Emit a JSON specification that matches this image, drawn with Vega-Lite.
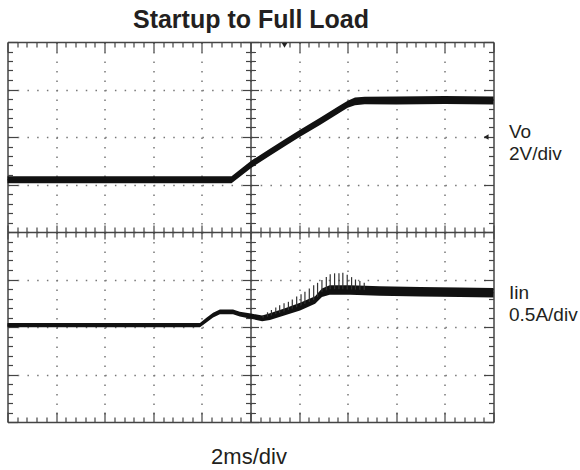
{
  "$schema": "https://vega.github.io/schema/vega-lite/v6.json",
  "width": 486,
  "height": 380,
  "autosize": {"type": "none"},
  "padding": {"left": 7.5, "top": 42, "right": 86.5, "bottom": 48},
  "background": "white",
  "config": {
    "view": {"stroke": null},
    "axis": {"labels": false, "grid": false, "domainColor": "#444", "domainWidth": 1.5, "tickColor": "#444", "tickWidth": 1.2}
  },
  "datasets": {
    "vo": [
      {"t": 0, "c": 5.10, "lo": 5.025, "hi": 5.175},
      {"t": 4.61, "c": 5.10, "lo": 5.025, "hi": 5.175},
      {"t": 5.02, "c": 5.43, "lo": 5.355, "hi": 5.505},
      {"t": 5.40, "c": 5.68, "lo": 5.605, "hi": 5.755},
      {"t": 5.74, "c": 5.90, "lo": 5.825, "hi": 5.975},
      {"t": 6.02, "c": 6.08, "lo": 6.005, "hi": 6.155},
      {"t": 6.43, "c": 6.33, "lo": 6.255, "hi": 6.405},
      {"t": 6.81, "c": 6.57, "lo": 6.495, "hi": 6.645},
      {"t": 7.00, "c": 6.69, "lo": 6.615, "hi": 6.765},
      {"t": 7.15, "c": 6.75, "lo": 6.67, "hi": 6.83},
      {"t": 7.35, "c": 6.77, "lo": 6.69, "hi": 6.85},
      {"t": 8, "c": 6.77, "lo": 6.685, "hi": 6.855},
      {"t": 9, "c": 6.78, "lo": 6.695, "hi": 6.865},
      {"t": 10, "c": 6.77, "lo": 6.685, "hi": 6.855}
    ],
    "iin": [
      {"t": 0, "c": 2.04, "lo": 1.995, "hi": 2.085},
      {"t": 3.96, "c": 2.04, "lo": 1.995, "hi": 2.085},
      {"t": 4.10, "c": 2.15, "lo": 2.10, "hi": 2.20},
      {"t": 4.23, "c": 2.25, "lo": 2.20, "hi": 2.30},
      {"t": 4.37, "c": 2.32, "lo": 2.27, "hi": 2.37},
      {"t": 4.64, "c": 2.32, "lo": 2.27, "hi": 2.37},
      {"t": 4.78, "c": 2.27, "lo": 2.22, "hi": 2.32},
      {"t": 5.01, "c": 2.23, "lo": 2.175, "hi": 2.285},
      {"t": 5.24, "c": 2.18, "lo": 2.12, "hi": 2.24},
      {"t": 5.40, "c": 2.22, "lo": 2.15, "hi": 2.29},
      {"t": 5.71, "c": 2.32, "lo": 2.245, "hi": 2.395},
      {"t": 6.02, "c": 2.43, "lo": 2.35, "hi": 2.51},
      {"t": 6.33, "c": 2.57, "lo": 2.49, "hi": 2.65},
      {"t": 6.47, "c": 2.72, "lo": 2.63, "hi": 2.81},
      {"t": 6.63, "c": 2.78, "lo": 2.68, "hi": 2.88},
      {"t": 7.05, "c": 2.78, "lo": 2.68, "hi": 2.88},
      {"t": 7.66, "c": 2.76, "lo": 2.66, "hi": 2.86},
      {"t": 8.49, "c": 2.74, "lo": 2.64, "hi": 2.84},
      {"t": 9.31, "c": 2.73, "lo": 2.63, "hi": 2.83},
      {"t": 10, "c": 2.72, "lo": 2.62, "hi": 2.82}
    ],
    "spikes": [
      {"t": 5.26, "base": 2.18, "top": 2.25},
      {"t": 5.35, "base": 2.21, "top": 2.31},
      {"t": 5.43, "base": 2.23, "top": 2.36},
      {"t": 5.52, "base": 2.26, "top": 2.41},
      {"t": 5.60, "base": 2.28, "top": 2.46},
      {"t": 5.69, "base": 2.31, "top": 2.50},
      {"t": 5.78, "base": 2.34, "top": 2.53},
      {"t": 5.86, "base": 2.37, "top": 2.58},
      {"t": 5.95, "base": 2.40, "top": 2.64},
      {"t": 6.04, "base": 2.44, "top": 2.69},
      {"t": 6.12, "base": 2.48, "top": 2.74},
      {"t": 6.21, "base": 2.52, "top": 2.81},
      {"t": 6.30, "base": 2.56, "top": 2.88},
      {"t": 6.38, "base": 2.62, "top": 2.93},
      {"t": 6.47, "base": 2.74, "top": 2.99},
      {"t": 6.56, "base": 2.77, "top": 3.05},
      {"t": 6.64, "base": 2.79, "top": 3.11},
      {"t": 6.73, "base": 2.79, "top": 3.13},
      {"t": 6.82, "base": 2.79, "top": 3.13},
      {"t": 6.90, "base": 2.79, "top": 3.14},
      {"t": 6.99, "base": 2.78, "top": 3.10},
      {"t": 7.08, "base": 2.78, "top": 3.05},
      {"t": 7.16, "base": 2.78, "top": 3.00},
      {"t": 7.25, "base": 2.78, "top": 2.97},
      {"t": 7.34, "base": 2.77, "top": 2.93}
    ],
    "markers": [
      {"t": 5.70, "v": 7.93, "kind": "trigger"},
      {"t": 9.85, "v": 6.0, "kind": "reference"}
    ]
  },
  "layer": [
    {
      "data": {"name": "vo"},
      "mark": {"type": "area", "color": "#111"},
      "encoding": {
        "x": {"field": "t", "type": "quantitative", "scale": {"domain": [0, 10], "nice": false, "zero": false},
          "axis": {"orient": "bottom", "title": null, "values": [0,0.2,0.4,0.6,0.8,1,1.2,1.4,1.6,1.8,2,2.2,2.4,2.6,2.8,3,3.2,3.4,3.6,3.8,4,4.2,4.4,4.6,4.8,5,5.2,5.4,5.6,5.8,6,6.2,6.4,6.6,6.8,7,7.2,7.4,7.6,7.8,8,8.2,8.4,8.6,8.8,9,9.2,9.4,9.6,9.8,10],
            "tickSize": {"condition": {"test": "abs(datum.value - round(datum.value)) < 0.01", "value": -10}, "value": -5},
            "grid": true, "gridColor": "#777", "gridWidth": 1.5, "gridDash": [1.5, 8],
            "gridOpacity": {"condition": {"test": "abs(datum.value - round(datum.value)) < 0.01 && datum.value > 0.01 && datum.value < 9.99", "value": 1}, "value": 0}}},
        "y": {"field": "lo", "type": "quantitative", "scale": {"domain": [0, 8], "nice": false, "zero": false},
          "axis": {"orient": "left", "title": null, "values": [0,0.2,0.4,0.6,0.8,1,1.2,1.4,1.6,1.8,2,2.2,2.4,2.6,2.8,3,3.2,3.4,3.6,3.8,4,4.2,4.4,4.6,4.8,5,5.2,5.4,5.6,5.8,6,6.2,6.4,6.6,6.8,7,7.2,7.4,7.6,7.8,8],
            "tickSize": {"condition": {"test": "abs(datum.value - round(datum.value)) < 0.01", "value": -10}, "value": -5},
            "grid": true, "gridColor": "#777", "gridWidth": 1.5, "gridDash": [1.5, 8.22],
            "gridOpacity": {"condition": {"test": "abs(datum.value - round(datum.value)) < 0.01 && datum.value > 0.01 && datum.value < 7.99", "value": 1}, "value": 0}}},
        "y2": {"field": "hi"}
      }
    },
    {
      "data": {"name": "iin"},
      "mark": {"type": "area", "color": "#111"},
      "encoding": {
        "x": {"field": "t", "type": "quantitative", "scale": {"domain": [0, 10], "nice": false, "zero": false},
          "axis": {"orient": "top", "values": [0,0.2,0.4,0.6,0.8,1,1.2,1.4,1.6,1.8,2,2.2,2.4,2.6,2.8,3,3.2,3.4,3.6,3.8,4,4.2,4.4,4.6,4.8,5,5.2,5.4,5.6,5.8,6,6.2,6.4,6.6,6.8,7,7.2,7.4,7.6,7.8,8,8.2,8.4,8.6,8.8,9,9.2,9.4,9.6,9.8,10],
            "tickSize": {"condition": {"test": "abs(datum.value - round(datum.value)) < 0.01", "value": -10}, "value": -5},
            "title": "Startup to Full Load", "titleFont": "Liberation Sans", "titleFontSize": 25, "titleFontWeight": "bold", "titleColor": "#231f20",
            "titleX": 243, "titleY": -15, "titleAlign": "center", "titleBaseline": "alphabetic"}},
        "y": {"field": "lo", "type": "quantitative", "scale": {"domain": [0, 8], "nice": false, "zero": false},
          "axis": {"orient": "right", "title": null, "values": [0,0.2,0.4,0.6,0.8,1,1.2,1.4,1.6,1.8,2,2.2,2.4,2.6,2.8,3,3.2,3.4,3.6,3.8,4,4.2,4.4,4.6,4.8,5,5.2,5.4,5.6,5.8,6,6.2,6.4,6.6,6.8,7,7.2,7.4,7.6,7.8,8],
            "tickSize": {"condition": {"test": "abs(datum.value - round(datum.value)) < 0.01", "value": -10}, "value": -5}}},
        "y2": {"field": "hi"}
      }
    },
    {
      "data": {"name": "spikes"},
      "mark": {"type": "rule", "color": "#333", "strokeWidth": 1.2},
      "encoding": {
        "x": {"field": "t", "type": "quantitative", "scale": {"domain": [0, 10], "nice": false, "zero": false},
          "axis": {"orient": "bottom", "title": null, "offset": -190, "values": [0,0.2,0.4,0.6,0.8,1,1.2,1.4,1.6,1.8,2,2.2,2.4,2.6,2.8,3,3.2,3.4,3.6,3.8,4,4.2,4.4,4.6,4.8,5,5.2,5.4,5.6,5.8,6,6.2,6.4,6.6,6.8,7,7.2,7.4,7.6,7.8,8,8.2,8.4,8.6,8.8,9,9.2,9.4,9.6,9.8,10],
            "tickSize": {"condition": {"test": "abs(datum.value - round(datum.value)) < 0.01", "value": 7}, "value": 5}}},
        "y": {"field": "base", "type": "quantitative", "scale": {"domain": [0, 8], "nice": false, "zero": false},
          "axis": {"orient": "left", "title": null, "offset": -243, "values": [0,0.2,0.4,0.6,0.8,1,1.2,1.4,1.6,1.8,2,2.2,2.4,2.6,2.8,3,3.2,3.4,3.6,3.8,4,4.2,4.4,4.6,4.8,5,5.2,5.4,5.6,5.8,6,6.2,6.4,6.6,6.8,7,7.2,7.4,7.6,7.8,8],
            "tickSize": {"condition": {"test": "abs(datum.value - round(datum.value)) < 0.01", "value": 8}, "value": 5}}},
        "y2": {"field": "top"}
      }
    },
    {
      "data": {"name": "vo"},
      "mark": {"type": "line", "color": "#111", "strokeWidth": 1},
      "encoding": {
        "x": {"field": "t", "type": "quantitative", "scale": {"domain": [0, 10], "nice": false, "zero": false},
          "axis": {"orient": "bottom", "title": null, "offset": -190, "domain": false, "values": [0,0.2,0.4,0.6,0.8,1,1.2,1.4,1.6,1.8,2,2.2,2.4,2.6,2.8,3,3.2,3.4,3.6,3.8,4,4.2,4.4,4.6,4.8,5,5.2,5.4,5.6,5.8,6,6.2,6.4,6.6,6.8,7,7.2,7.4,7.6,7.8,8,8.2,8.4,8.6,8.8,9,9.2,9.4,9.6,9.8,10],
            "tickSize": {"condition": {"test": "abs(datum.value - round(datum.value)) < 0.01", "value": -7}, "value": -5}}},
        "y": {"field": "c", "type": "quantitative", "scale": {"domain": [0, 8], "nice": false, "zero": false},
          "axis": {"orient": "left", "title": null, "offset": -243, "domain": false, "values": [0,0.2,0.4,0.6,0.8,1,1.2,1.4,1.6,1.8,2,2.2,2.4,2.6,2.8,3,3.2,3.4,3.6,3.8,4,4.2,4.4,4.6,4.8,5,5.2,5.4,5.6,5.8,6,6.2,6.4,6.6,6.8,7,7.2,7.4,7.6,7.8,8],
            "tickSize": {"condition": {"test": "abs(datum.value - round(datum.value)) < 0.01", "value": -8}, "value": -5}}}
      }
    },
    {
      "data": {"name": "iin"},
      "mark": {"type": "line", "color": "#111", "strokeWidth": 1},
      "encoding": {
        "x": {"field": "t", "type": "quantitative", "scale": {"domain": [0, 10], "nice": false, "zero": false},
          "axis": {"orient": "bottom", "domain": false, "ticks": false, "values": [5],
            "title": "2ms/div", "titleFont": "Liberation Sans", "titleFontSize": 22, "titleFontWeight": "normal", "titleColor": "#231f20",
            "titleX": 241, "titleY": 41, "titleAlign": "center", "titleBaseline": "alphabetic"}},
        "y": {"field": "c", "type": "quantitative", "scale": {"domain": [0, 8], "nice": false, "zero": false},
          "axis": {"orient": "right", "title": null, "domain": false, "ticks": false, "labels": true, "values": [5.98, 5.52, 2.61, 2.13],
            "labelExpr": "datum.value > 5.8 ? 'Vo' : datum.value > 4 ? '2V/div' : datum.value > 2.3 ? 'Iin' : '0.5A/div'",
            "labelOverlap": false, "labelBound": false, "labelFlush": false, "labelPadding": 15, "labelAlign": "left", "labelBaseline": "alphabetic",
            "labelFont": "Liberation Sans", "labelFontSize": 19, "labelColor": "#231f20"}}
      }
    },
    {
      "data": {"name": "markers"},
      "mark": {"type": "point", "filled": true, "color": "#222", "size": 30, "opacity": 1},
      "encoding": {
        "x": {"field": "t", "type": "quantitative", "scale": {"domain": [0, 10], "nice": false, "zero": false}, "axis": null},
        "y": {"field": "v", "type": "quantitative", "scale": {"domain": [0, 8], "nice": false, "zero": false}, "axis": null},
        "shape": {"field": "kind", "type": "nominal", "scale": {"domain": ["trigger", "reference"], "range": ["triangle-down", "triangle-left"]}, "legend": null}
      }
    }
  ],
  "resolve": {"axis": {"x": "independent", "y": "independent"}}
}
